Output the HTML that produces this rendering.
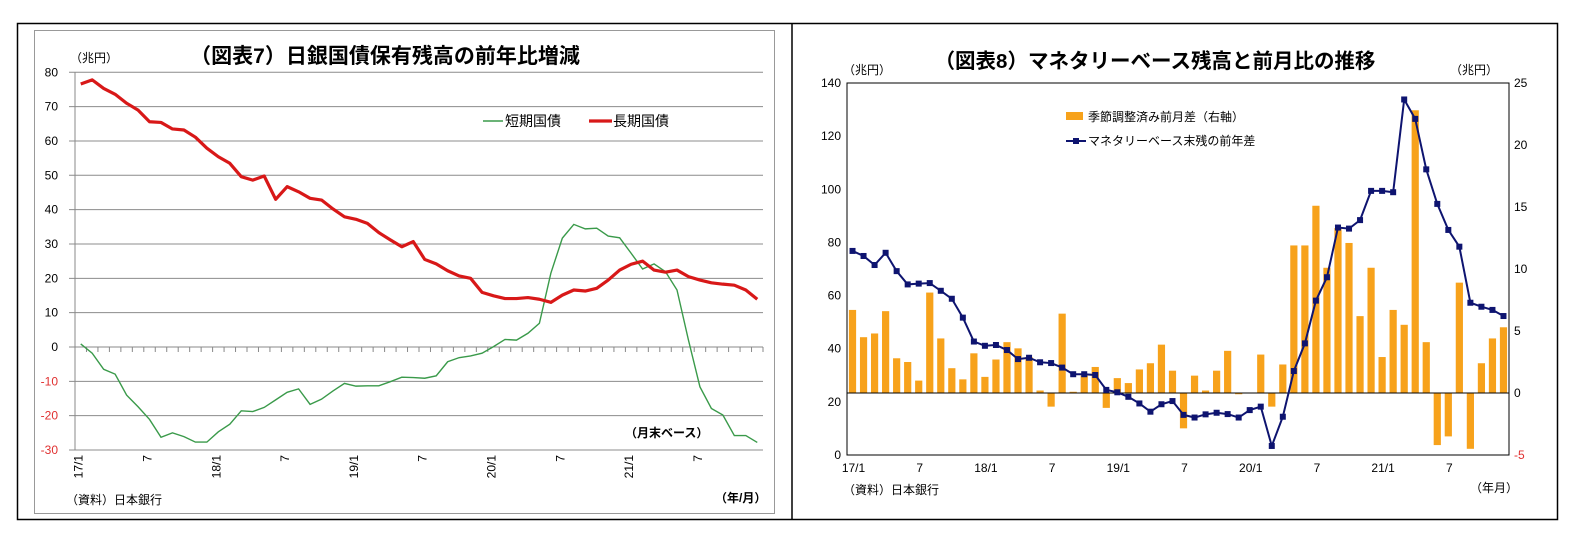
<!DOCTYPE html>
<html><head><meta charset="utf-8">
<style>
body{margin:0;background:#fff;}
svg{display:block;font-family:"Liberation Sans","Noto Sans CJK JP",sans-serif;}
</style></head>
<body>
<svg id="svg" width="1575" height="547" viewBox="0 0 1575 547">
<rect x="17.5" y="23.5" width="1540" height="496" fill="#fff" stroke="#000" stroke-width="1.5"/>
<line x1="792" y1="23" x2="792" y2="520" stroke="#000" stroke-width="1.5"/>
<rect x="34.5" y="30.5" width="740" height="483" fill="none" stroke="#999"/>
<g id="left"></g>
<g id="right"></g>
</svg>
<script>
// ---------- Left chart data ----------
const leftMonths = 60;
const leftXTicks = ["17/1","7","18/1","7","19/1","7","20/1","7","21/1","7"];
const leftYTicks = [80,70,60,50,40,30,20,10,0,-10,-20,-30];
const shortJGB = [0.9,-1.8,-6.5,-7.9,-14.0,-17.4,-21.1,-26.3,-25.0,-26.1,-27.7,-27.7,-24.7,-22.5,-18.6,-18.8,-17.6,-15.4,-13.2,-12.2,-16.7,-15.2,-12.8,-10.6,-11.4,-11.3,-11.3,-10.1,-8.8,-8.9,-9.1,-8.4,-4.3,-3.1,-2.6,-1.8,0.1,2.2,2.0,4.0,6.9,21.5,31.7,35.7,34.4,34.6,32.3,31.8,27.3,22.7,24.2,21.9,16.6,2.0,-11.6,-17.9,-19.8,-25.8,-25.8,-27.8];
const longJGB = [76.6,77.8,75.3,73.6,71.0,69.0,65.6,65.4,63.5,63.2,61.1,57.9,55.4,53.5,49.6,48.6,49.8,43.0,46.7,45.2,43.3,42.8,40.2,37.9,37.2,36.0,33.3,31.2,29.2,30.7,25.5,24.2,22.2,20.7,20.0,15.9,14.9,14.1,14.1,14.4,13.9,13.0,15.1,16.6,16.3,17.1,19.5,22.4,24.1,25.0,22.4,21.8,22.4,20.5,19.5,18.7,18.3,18.0,16.6,13.9];

// ---------- Right chart data ----------
const rightMonths = 60;
const rightXTicks = ["17/1","7","18/1","7","19/1","7","20/1","7","21/1","7"];
const rightLeftTicks = [140,120,100,80,60,40,20,0];
const rightRightTicks = [25,20,15,10,5,0,-5];
const monthlyChange = [6.7,4.5,4.8,6.6,2.8,2.5,1.0,8.1,4.4,2.0,1.1,3.2,1.3,2.7,4.1,3.6,2.9,0.2,-1.1,6.4,0.1,1.4,2.1,-1.2,1.2,0.8,1.9,2.4,3.9,1.8,-2.85,1.4,0.2,1.8,3.4,-0.1,0,3.1,-1.1,2.3,11.9,11.9,15.1,10.1,13.3,12.1,6.2,10.1,2.9,6.7,5.5,22.8,4.1,-4.2,-3.5,8.9,-4.5,2.4,4.4,5.3];
const yoyChange = [76.8,74.9,71.5,76.1,69.2,64.2,64.5,64.7,61.8,58.8,51.7,42.7,41.1,41.4,39.5,36.1,36.6,34.9,34.6,32.9,30.4,30.4,30.1,24.5,23.6,21.9,19.4,16.3,19.1,20.3,15.1,14.1,15.3,15.9,15.4,14.1,16.9,18.2,3.4,14.4,31.6,42.0,58.1,66.9,85.6,85.2,88.4,99.4,99.4,98.9,133.8,126.5,107.5,94.5,84.7,78.4,57.3,55.8,54.6,52.3];

const NS="http://www.w3.org/2000/svg";
function mk(parent,tag,attrs,text){const e=document.createElementNS(NS,tag);for(const k in attrs)e.setAttribute(k,attrs[k]);if(text!==undefined)e.textContent=text;parent.appendChild(e);return e;}

// ---------- Left chart ----------
(function(){
const g=document.getElementById('left');
const x0=75,x1=763,yTop=72.3,yBot=450,vMax=80,vMin=-30;
const bw=(x1-x0)/leftMonths;
const X=i=>x0+(i+0.5)*bw;
const Y=v=>yTop+(vMax-v)*(yBot-yTop)/(vMax-vMin);
let t=mk(g,'text',{x:385,y:63,'font-size':21,'font-weight':'bold','text-anchor':'middle',fill:'#000'},'（図表7）日銀国債保有残高の前年比増減');

t=mk(g,'text',{x:70,y:62,'font-size':12,fill:'#000'},'（兆円）');

leftYTicks.forEach(v=>{
  const y=Y(v);
  const l=mk(g,'line',{x1:x0-6,x2:x1,y1:y,y2:y,stroke:v===0?'#888':'#8c8c8c','stroke-width':1});
  
  const tx=mk(g,'text',{x:58,y:y+4,'font-size':12,'text-anchor':'end',fill:v<0?'#e03030':'#000'},String(v));
  
});
const ax=mk(g,'line',{x1:x0,x2:x0,y1:yTop,y2:yBot,stroke:'#888'});

for(let i=0;i<=leftMonths;i++){
  const x=x0+i*bw;
  const tk=mk(g,'line',{x1:x,x2:x,y1:Y(0),y2:Y(0)+5,stroke:'#888'});
  
}
leftXTicks.forEach((s,k)=>{
  const x=X(k*6)-2;
  const tx=mk(g,'text',{x:0,y:0,'font-size':12,'text-anchor':'end',fill:'#000',transform:`translate(${x+4},${455}) rotate(-90)`},s);
  
});
const p1=mk(g,'polyline',{points:shortJGB.map((v,i)=>X(i)+','+Y(v)).join(' '),fill:'none',stroke:'#3a9a4a','stroke-width':1.4});

const p2=mk(g,'polyline',{points:longJGB.map((v,i)=>X(i)+','+Y(v)).join(' '),fill:'none',stroke:'#d81818','stroke-width':3.2,'stroke-linejoin':'round'});

const lg=mk(g,'g',{});

let e=mk(lg,'line',{x1:483,x2:503,y1:121,y2:121,stroke:'#3a9a4a','stroke-width':1.4});

e=mk(lg,'text',{x:505,y:126,'font-size':14,fill:'#000'},'短期国債');

e=mk(lg,'line',{x1:589,x2:612,y1:121,y2:121,stroke:'#d81818','stroke-width':3.2});

e=mk(lg,'text',{x:613,y:126,'font-size':14,fill:'#000'},'長期国債');

e=mk(g,'text',{x:625,y:437,'font-size':12,'font-weight':'bold',fill:'#000'},'（月末ベース）');

e=mk(g,'text',{x:66,y:504,'font-size':12,fill:'#000'},'（資料）日本銀行');

e=mk(g,'text',{x:715,y:502,'font-size':12,'font-weight':'bold',fill:'#000'},'（年/月）');

})();

// ---------- Right chart ----------
(function(){
const g=document.getElementById('right');
const x0=847,x1=1509,yTop=83,yBot=455;
const bw=(x1-x0)/rightMonths;
const X=i=>x0+(i+0.5)*bw;
const YL=v=>yBot-v*(yBot-yTop)/140;
const YR=v=>yTop+(25-v)*(yBot-yTop)/30;
let t=mk(g,'text',{x:1155,y:68,'font-size':20.5,'font-weight':'bold','text-anchor':'middle',fill:'#000'},'（図表8）マネタリーベース残高と前月比の推移');

t=mk(g,'text',{x:843,y:74,'font-size':12,fill:'#000'},'（兆円）');

t=mk(g,'text',{x:1450,y:74,'font-size':12,fill:'#000'},'（兆円）');

const fr=mk(g,'rect',{x:x0,y:yTop,width:x1-x0,height:yBot-yTop,fill:'none',stroke:'#000','stroke-width':1});

rightLeftTicks.forEach(v=>{
  const tx=mk(g,'text',{x:841,y:YL(v)+4,'font-size':12,'text-anchor':'end',fill:'#000'},String(v));
  
});
rightRightTicks.forEach(v=>{
  const tx=mk(g,'text',{x:1514,y:YR(v)+4,'font-size':12,fill:v<0?'#e03030':'#000'},String(v));
  
});
monthlyChange.forEach((v,i)=>{
  const y0=YR(0),y=YR(v);
  const r=mk(g,'rect',{x:X(i)-3.6,y:Math.min(y0,y),width:7.2,height:Math.abs(y-y0),fill:'#f7a21b'});
  
});
const zl=mk(g,'line',{x1:x0,x2:x1,y1:YR(0),y2:YR(0),stroke:'#000','stroke-width':1});

const pl=mk(g,'polyline',{points:yoyChange.map((v,i)=>X(i)+','+YL(v)).join(' '),fill:'none',stroke:'#0e1470','stroke-width':2});

yoyChange.forEach((v,i)=>{
  const m=mk(g,'rect',{x:X(i)-3,y:YL(v)-3,width:6,height:6,fill:'#0e1470'});
  
});
rightXTicks.forEach((s,k)=>{
  const tx=mk(g,'text',{x:X(k*6)+1,y:472,'font-size':12,'text-anchor':'middle',fill:'#000'},s);
  
});
const lg=mk(g,'g',{});

let e=mk(lg,'rect',{x:1066,y:112,width:17,height:8,fill:'#f7a21b'});

e=mk(lg,'text',{x:1088,y:121,'font-size':12,fill:'#000'},'季節調整済み前月差（右軸）');

e=mk(lg,'line',{x1:1066,x2:1086,y1:141,y2:141,stroke:'#0e1470','stroke-width':2});

e=mk(lg,'rect',{x:1073,y:138,width:6,height:6,fill:'#0e1470'});

e=mk(lg,'text',{x:1088,y:145,'font-size':12,fill:'#000'},'マネタリーベース末残の前年差');

e=mk(g,'text',{x:843,y:494,'font-size':12,fill:'#000'},'（資料）日本銀行');

e=mk(g,'text',{x:1470,y:492,'font-size':12,fill:'#000'},'（年月）');

})();
</script>
</body></html>
